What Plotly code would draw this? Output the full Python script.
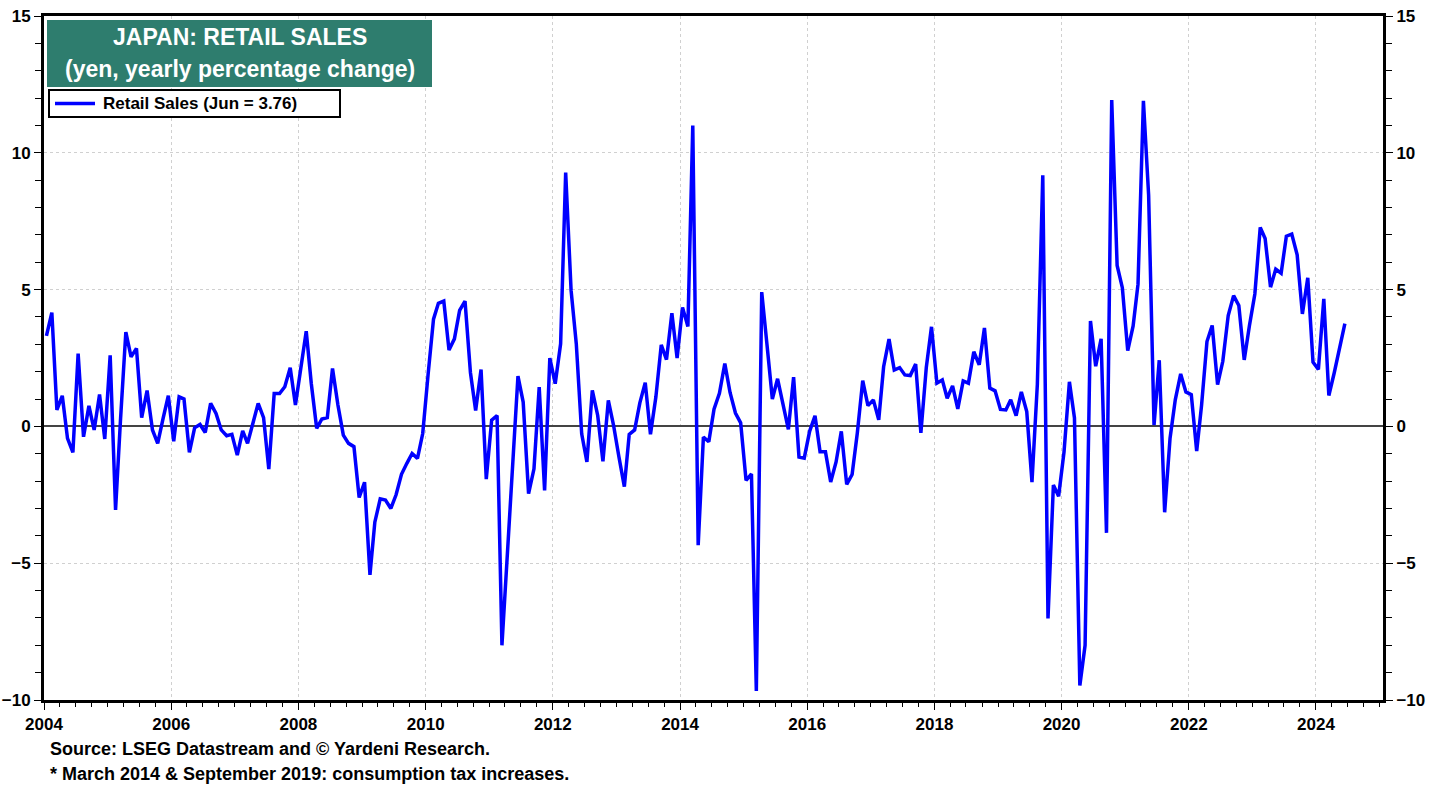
import pandas as pd
import plotly.graph_objects as go

# Japan retail sales, yearly % change, monthly Jan 2004 - Jun 2024
y2004 = [3.31, 4.16, 0.60, 1.12, -0.44, -0.95, 2.66, -0.38, 0.75, -0.13, 1.17, -0.46]
y2005 = [2.60, -3.05, 0.20, 3.45, 2.54, 2.85, 0.32, 1.31, -0.13, -0.62, 0.29, 1.12]
y2006 = [-0.54, 1.08, 1.00, -0.95, -0.05, 0.07, -0.22, 0.84, 0.47, -0.13, -0.34, -0.29]
y2007 = [-1.05, -0.16, -0.62, 0.11, 0.84, 0.32, -1.56, 1.20, 1.20, 1.45, 2.14, 0.78]
y2008 = [2.12, 3.48, 1.57, -0.07, 0.27, 0.32, 2.12, 0.78, -0.32, -0.62, -0.74, -2.60]
y2009 = [-2.04, -5.43, -3.50, -2.65, -2.69, -3.00, -2.50, -1.75, -1.35, -0.99, -1.17, -0.26]
y2010 = [1.90, 3.92, 4.50, 4.58, 2.79, 3.20, 4.24, 4.58, 1.97, 0.58, 2.08, -1.93]
y2011 = [0.23, 0.40, -8.00, -4.70, -1.30, 1.84, 0.89, -2.46, -1.55, 1.44, -2.34, 2.50]
y2012 = [1.56, 3.02, 9.28, 4.98, 3.02, -0.27, -1.30, 1.32, 0.40, -1.28, 0.95, 0.04]
y2013 = [-1.12, -2.20, -0.29, -0.13, 0.86, 1.60, -0.29, 1.07, 2.98, 2.44, 4.14, 2.50]
y2014 = [4.35, 3.65, 11.00, -4.34, -0.39, -0.56, 0.63, 1.21, 2.30, 1.24, 0.49, 0.13]
y2015 = [-1.97, -1.74, -9.67, 4.91, 3.00, 1.00, 1.74, 0.80, -0.11, 1.80, -1.12, -1.16]
y2016 = [-0.18, 0.39, -0.93, -0.93, -2.03, -1.30, -0.18, -2.12, -1.76, -0.24, 1.67, 0.76]
y2017 = [0.97, 0.24, 2.18, 3.19, 2.06, 2.15, 1.88, 1.86, 2.28, -0.24, 2.15, 3.64]
y2018 = [1.58, 1.70, 1.03, 1.48, 0.64, 1.66, 1.58, 2.73, 2.25, 3.60, 1.40, 1.30]
y2019 = [0.62, 0.60, 0.97, 0.39, 1.26, 0.54, -2.04, 1.55, 9.18, -7.02, -2.14, -2.55]
y2020 = [-0.94, 1.63, 0.31, -9.47, -8.00, 3.85, 2.20, 3.20, -3.89, 11.93, 5.88, 5.07]
y2021 = [2.77, 3.67, 5.20, 11.90, 8.45, 0.05, 2.42, -3.14, -0.43, 0.97, 1.92, 1.26]
y2022 = [1.16, -0.90, 0.77, 3.10, 3.69, 1.53, 2.38, 4.05, 4.78, 4.42, 2.43, 3.69]
y2023 = [4.84, 7.27, 6.87, 5.09, 5.75, 5.60, 6.95, 7.03, 6.27, 4.11, 5.43, 2.35]
y2024 = [2.08, 4.66, 1.13, 1.96, 2.83, 3.76]

retail_sales = (y2004 + y2005 + y2006 + y2007 + y2008 + y2009 + y2010 + y2011 +
                y2012 + y2013 + y2014 + y2015 + y2016 + y2017 + y2018 + y2019 +
                y2020 + y2021 + y2022 + y2023 + y2024)
dates = pd.date_range("2004-01-01", periods=len(retail_sales), freq="MS") + pd.Timedelta(days=14)

x_tick_years = list(range(2004, 2026, 2))
y_ticks = [-10, -5, 0, 5, 10, 15]
legend_label = "Retail Sales (Jun = 3.76)"

FONT = "Liberation Sans, Arial, sans-serif"
W, H = 1438, 792
L, R, T, B = 44, 55, 16, 92
pw, ph = W - L - R, H - T - B

def px_x(p):
    return (p - L) / pw

def px_y(p):
    return (H - B - p) / ph

fig = go.Figure()
fig.add_trace(go.Scatter(
    x=dates, y=retail_sales, mode="lines",
    name=legend_label, showlegend=False,
    line=dict(color="#0000FF", width=3.5),
))
# invisible trace to drive the right-hand axis
fig.add_trace(go.Scatter(x=[dates[0]], y=[0], yaxis="y2", mode="lines",
                         line=dict(width=0), showlegend=False, hoverinfo="skip"))

yaxis_common = dict(
    range=[-10, 15], tickvals=y_ticks, ticks="outside", ticklen=7, tickwidth=1,
    tickcolor="black", showline=True, linecolor="black", linewidth=3,
    tickfont=dict(family=FONT, size=17, color="black", weight="bold"),
    minor=dict(dtick=1, ticks="outside", ticklen=6, tickcolor="black", showgrid=False),
    automargin=False,
)

fig.update_layout(
    width=W, height=H,
    margin=dict(l=L, r=R, t=T, b=B, autoexpand=False),
    paper_bgcolor="white", plot_bgcolor="white",
    showlegend=False,
    xaxis=dict(
        type="date",
        range=["2004-01-01", "2025-01-20"],
        tickvals=[f"{y}-01-01" for y in x_tick_years],
        ticktext=[str(y) for y in x_tick_years],
        ticks="outside", ticklen=7, tickcolor="black",
        showline=True, linecolor="black", linewidth=3, mirror=True,
        showgrid=True, gridcolor="#d0d0d0", griddash="dot", gridwidth=1,
        tickfont=dict(family=FONT, size=17, color="black", weight="bold"),
        minor=dict(dtick="M3", tick0="2004-01-01", ticks="outside", ticklen=4,
                   tickcolor="black", showgrid=False),
        zeroline=False, automargin=False,
    ),
    yaxis=dict(
        **yaxis_common,
        side="left", mirror=True,
        showgrid=True, gridcolor="#d0d0d0", griddash="dot", gridwidth=1,
        zeroline=True, zerolinecolor="#444444", zerolinewidth=1.5,
    ),
    yaxis2=dict(
        **yaxis_common,
        side="right", overlaying="y", showgrid=False, zeroline=False,
    ),
)

# Title box
fig.add_shape(type="rect", xref="paper", yref="paper",
              x0=px_x(47), x1=px_x(432), y0=px_y(87), y1=px_y(20),
              fillcolor="#2E7D6E", line=dict(color="#2E7D6E", width=0), layer="above")
fig.add_annotation(xref="paper", yref="paper", x=px_x(240), y=px_y(37),
                   text="JAPAN: RETAIL SALES", showarrow=False,
                   xanchor="center", yanchor="middle",
                   font=dict(family=FONT, size=23, color="white", weight="bold"))
fig.add_annotation(xref="paper", yref="paper", x=px_x(240), y=px_y(69),
                   text="(yen, yearly percentage change)", showarrow=False,
                   xanchor="center", yanchor="middle",
                   font=dict(family=FONT, size=23, color="white", weight="bold"))

# Legend box (drawn to match the reference's boxed key)
fig.add_shape(type="rect", xref="paper", yref="paper",
              x0=px_x(49), x1=px_x(340), y0=px_y(117), y1=px_y(90),
              fillcolor="white", line=dict(color="black", width=2), layer="above")
fig.add_shape(type="line", xref="paper", yref="paper",
              x0=px_x(55), x1=px_x(95), y0=px_y(103.5), y1=px_y(103.5),
              line=dict(color="#0000FF", width=3.5), layer="above")
fig.add_annotation(xref="paper", yref="paper", x=px_x(101), y=px_y(103.5),
                   text=legend_label, showarrow=False,
                   xanchor="left", yanchor="middle",
                   font=dict(family=FONT, size=17, color="black", weight="bold"))

# Footer
fig.add_annotation(xref="paper", yref="paper", x=px_x(48), y=px_y(749),
                   text="Source: LSEG Datastream and © Yardeni Research.", showarrow=False,
                   xanchor="left", yanchor="middle",
                   font=dict(family=FONT, size=18, color="black", weight="bold"))
fig.add_annotation(xref="paper", yref="paper", x=px_x(48), y=px_y(774),
                   text="* March 2014 & September 2019: consumption tax increases.", showarrow=False,
                   xanchor="left", yanchor="middle",
                   font=dict(family=FONT, size=18, color="black", weight="bold"))

fig.write_html("out.html", config={"displayModeBar": False},
               post_script="document.body.style.margin='0';document.body.style.overflow='hidden';")
